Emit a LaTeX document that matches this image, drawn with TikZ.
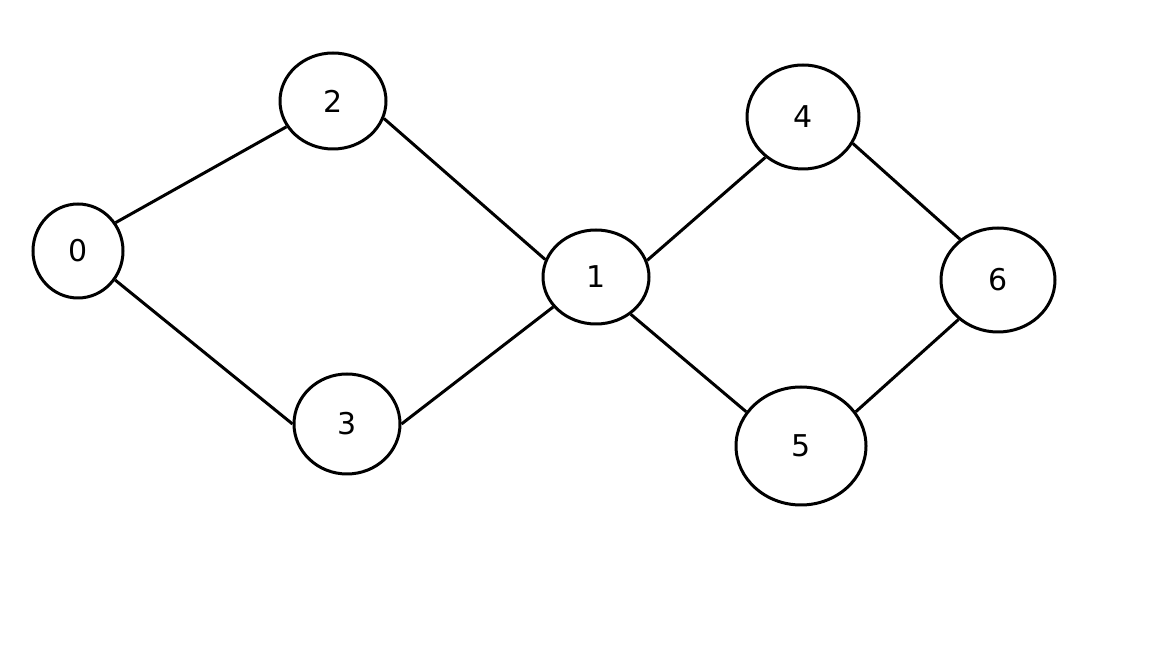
\documentclass[tikz,border=0pt]{standalone}
\usepackage{fontspec}
\setmainfont{DejaVu Sans}
\usetikzlibrary{shapes.geometric}
\begin{document}
\begin{tikzpicture}[x=1pt,y=1pt,
  vtx/.style={draw=black, line width=3pt, ellipse, inner sep=0pt, font=\fontsize{30}{30}\selectfont},
  edge/.style={draw=black, line width=3pt}]
\useasboundingbox[fill=white] (0,0) rectangle (1152,648);
\node[vtx, minimum width=90, minimum height=94] (n0) at (78,397) {0};
\node[vtx, minimum width=106, minimum height=96] (n2) at (333,547) {2};
\node[vtx, minimum width=106, minimum height=100] (n3) at (347,224) {3};
\node[vtx, minimum width=106, minimum height=94] (n1) at (596,371) {1};
\node[vtx, minimum width=112, minimum height=104] (n4) at (803,531) {4};
\node[vtx, minimum width=114, minimum height=104] (n6) at (998,368) {6};
\node[vtx, minimum width=130, minimum height=118] (n5) at (801,202) {5};
\draw[edge] (n0.37) -- (n2.209);
\draw[edge] (n0.-38) -- (n3.180);
\draw[edge] (n2.-19) -- (n1.161);
\draw[edge] (n3.0) -- (n1.215);
\draw[edge] (n1.18) -- (n4.227);
\draw[edge] (n1.-47) -- (n5.148);
\draw[edge] (n4.-28) -- (n6.133);
\draw[edge] (n5.32) -- (n6.225);
\end{tikzpicture}
\end{document}
